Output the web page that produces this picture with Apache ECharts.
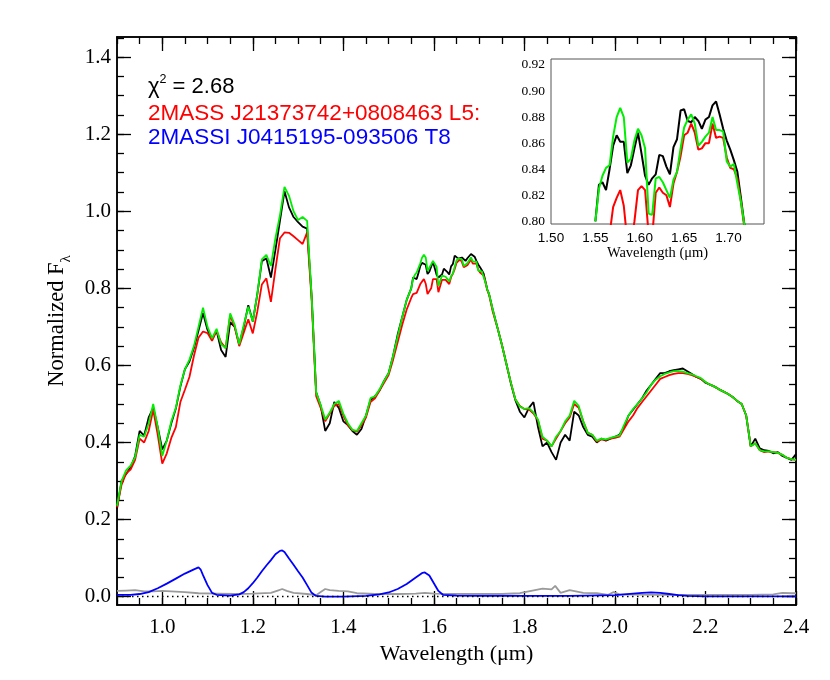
<!DOCTYPE html>
<html>
<head>
<meta charset="utf-8">
<script src="https://cdn.jsdelivr.net/npm/echarts@6/dist/echarts.min.js"></script>
<style>html,body{margin:0;padding:0;background:#fff;}#c{width:830px;height:680px;}</style>
</head>
<body>
<div id="c"></div>
<script>
// ---- data ----
const wave = [0.90,0.91,0.92,0.93,0.94,0.95,0.96,0.97,0.98,0.99,
1.00,1.01,1.02,1.03,1.04,1.05,1.06,1.07,1.08,1.09,
1.10,1.11,1.12,1.13,1.14,1.15,1.16,1.17,1.18,1.19,
1.20,1.21,1.22,1.23,1.24,1.25,1.26,1.27,1.28,1.29,
1.30,1.31,1.32,1.33,1.34,1.35,1.36,1.37,1.38,1.39,
1.40,1.41,1.42,1.43,1.44,1.45,1.46,1.47,1.48,1.49,
1.50,1.51,1.52,1.53,1.54,1.55,1.56,1.57,1.58,1.59,
1.60,1.61,1.62,1.63,1.64,1.65,1.66,1.67,1.68,1.69,
1.70,1.71,1.72,1.73,1.74,1.75,1.76,1.77,1.78,1.79,
1.80,1.81,1.82,1.83,1.84,1.85,1.86,1.87,1.88,1.89,
1.90,1.91,1.92,1.93,1.94,1.95,1.96,1.97,1.98,1.99,
2.00,2.01,2.02,2.03,2.04,2.05,2.06,2.07,2.08,2.09,
2.10,2.11,2.12,2.13,2.14,2.15,2.16,2.17,2.18,2.19,
2.20,2.21,2.22,2.23,2.24,2.25,2.26,2.27,2.28,2.29,
2.30,2.31,2.32,2.33,2.34,2.35,2.36,2.37,2.38,2.39,2.40];

const observed = [0.228,0.300,0.318,0.335,0.365,0.430,0.418,0.465,0.490,0.440,
0.382,0.405,0.450,0.488,0.545,0.590,0.610,0.645,0.690,0.736,
0.692,0.668,0.690,0.640,0.622,0.712,0.700,0.655,0.700,0.756,
0.714,0.785,0.870,0.878,0.828,0.900,0.975,1.052,1.010,0.985,
0.972,0.960,0.955,0.780,0.530,0.495,0.430,0.450,0.505,0.490,
0.455,0.445,0.430,0.420,0.435,0.470,0.510,0.520,0.535,0.560,
0.580,0.625,0.680,0.725,0.770,0.800,0.830,0.862,0.861,0.843,
0.860,0.830,0.842,0.842,0.860,0.885,0.879,0.872,0.878,0.885,
0.858,0.840,0.790,0.745,0.700,0.655,0.605,0.554,0.510,0.480,
0.465,0.490,0.505,0.440,0.390,0.400,0.375,0.355,0.400,0.420,
0.405,0.480,0.470,0.440,0.420,0.415,0.400,0.410,0.405,0.410,
0.415,0.420,0.440,0.470,0.485,0.500,0.515,0.535,0.550,0.565,
0.580,0.580,0.585,0.588,0.590,0.592,0.585,0.578,0.570,0.565,
0.555,0.550,0.545,0.538,0.532,0.526,0.518,0.508,0.500,0.470,
0.390,0.410,0.385,0.380,0.378,0.372,0.375,0.365,0.360,0.355,0.370];

const templateL5 = [0.232,0.290,0.320,0.330,0.355,0.410,0.400,0.430,0.485,0.420,
0.345,0.372,0.412,0.440,0.505,0.537,0.570,0.625,0.672,0.688,
0.684,0.664,0.690,0.660,0.645,0.730,0.700,0.650,0.685,0.720,
0.683,0.740,0.810,0.826,0.765,0.850,0.930,0.945,0.944,0.935,
0.925,0.915,0.945,0.770,0.520,0.490,0.455,0.475,0.495,0.500,
0.470,0.445,0.432,0.428,0.445,0.465,0.505,0.515,0.535,0.555,
0.575,0.615,0.660,0.705,0.745,0.775,0.795,0.811,0.818,0.790,
0.826,0.790,0.824,0.817,0.834,0.862,0.874,0.855,0.862,0.865,
0.845,0.835,0.785,0.740,0.700,0.655,0.605,0.556,0.512,0.495,
0.487,0.486,0.475,0.458,0.410,0.405,0.390,0.410,0.430,0.450,
0.465,0.500,0.490,0.455,0.425,0.420,0.402,0.408,0.407,0.410,
0.412,0.415,0.435,0.455,0.470,0.490,0.505,0.520,0.535,0.550,
0.565,0.570,0.575,0.578,0.580,0.580,0.578,0.575,0.570,0.565,
0.557,0.550,0.545,0.538,0.532,0.526,0.518,0.508,0.500,0.470,
0.390,0.398,0.380,0.375,0.377,0.375,0.373,0.368,0.360,0.357,0.355];

const composite = [0.236,0.300,0.328,0.340,0.362,0.420,0.415,0.450,0.500,0.440,
0.365,0.405,0.455,0.490,0.548,0.590,0.615,0.650,0.700,0.750,
0.700,0.670,0.695,0.655,0.645,0.735,0.705,0.655,0.705,0.752,
0.714,0.785,0.875,0.887,0.858,0.930,0.990,1.063,1.040,1.000,
0.977,0.985,0.975,0.780,0.530,0.497,0.460,0.478,0.500,0.508,
0.475,0.450,0.433,0.430,0.450,0.470,0.515,0.520,0.538,0.560,
0.580,0.625,0.675,0.725,0.770,0.800,0.837,0.868,0.882,0.848,
0.865,0.806,0.834,0.822,0.835,0.870,0.880,0.860,0.870,0.870,
0.845,0.835,0.790,0.745,0.700,0.655,0.605,0.556,0.512,0.493,
0.487,0.489,0.478,0.460,0.415,0.405,0.390,0.415,0.430,0.455,
0.470,0.508,0.495,0.455,0.425,0.420,0.405,0.410,0.408,0.412,
0.415,0.418,0.445,0.470,0.487,0.500,0.515,0.530,0.550,0.563,
0.572,0.578,0.582,0.585,0.585,0.584,0.580,0.577,0.572,0.567,
0.557,0.550,0.545,0.538,0.532,0.526,0.518,0.508,0.500,0.470,
0.390,0.398,0.380,0.377,0.377,0.375,0.373,0.368,0.360,0.357,0.355];

// finer sampling of the H-band peak (also shown in the inset)
const insetWave = [1.550,1.554,1.558,1.562,1.566,1.570,1.574,1.578,1.582,1.586,
1.590,1.594,1.598,1.602,1.606,1.610,1.614,1.618,1.622,1.626,
1.630,1.634,1.638,1.642,1.646,1.650,1.654,1.658,1.662,1.666,
1.670,1.674,1.678,1.682,1.686,1.690,1.694,1.698,1.702,1.706,
1.710,1.714,1.718,1.722];
const insetObserved = [0.800,0.828,0.830,0.824,0.840,0.858,0.866,0.861,0.861,0.837,
0.843,0.856,0.868,0.852,0.835,0.828,0.833,0.836,0.851,0.850,
0.842,0.836,0.857,0.863,0.885,0.886,0.877,0.876,0.880,0.877,
0.871,0.878,0.880,0.889,0.892,0.882,0.871,0.862,0.855,0.847,
0.838,0.818,0.797,0.785];
const insetL5 = [0.775,0.785,0.790,0.788,0.790,0.811,0.818,0.824,0.812,0.785,
0.782,0.800,0.824,0.827,0.824,0.790,0.788,0.822,0.826,0.822,
0.820,0.811,0.829,0.838,0.850,0.866,0.868,0.875,0.868,0.855,
0.856,0.860,0.860,0.875,0.864,0.865,0.864,0.849,0.841,0.840,
0.833,0.815,0.795,0.783];
const insetComposite = [0.800,0.825,0.835,0.841,0.843,0.865,0.880,0.887,0.880,0.845,
0.848,0.862,0.871,0.866,0.856,0.806,0.805,0.833,0.834,0.830,
0.824,0.818,0.832,0.838,0.856,0.872,0.878,0.882,0.875,0.858,
0.861,0.865,0.868,0.880,0.870,0.870,0.869,0.846,0.842,0.844,
0.829,0.815,0.797,0.785];

// scaled T8 component
const t8Wave = [0.90,0.93,0.95,0.97,0.99,1.01,1.03,1.05,1.07,1.08,1.085,1.09,1.10,1.11,1.12,1.15,1.17,1.18,1.19,
1.20,1.21,1.22,1.23,1.24,1.25,1.26,1.265,1.27,1.28,1.29,1.30,1.31,1.32,1.33,1.34,1.36,1.40,1.45,1.48,
1.50,1.52,1.54,1.56,1.575,1.58,1.59,1.60,1.61,1.62,1.65,1.70,1.80,1.90,2.00,2.02,2.04,2.06,2.08,
2.10,2.12,2.14,2.16,2.20,2.40];
const t8Flux = [0.005,0.005,0.007,0.012,0.022,0.034,0.047,0.060,0.071,0.076,0.070,0.056,0.030,0.010,0.005,0.003,0.006,0.012,0.022,
0.035,0.050,0.066,0.081,0.095,0.110,0.119,0.120,0.116,0.099,0.083,0.066,0.050,0.030,0.010,0.002,0.000,0.000,0.002,0.006,
0.011,0.020,0.033,0.050,0.062,0.063,0.055,0.035,0.015,0.005,0.003,0.002,0.002,0.002,0.004,0.006,0.008,0.010,0.011,
0.010,0.007,0.004,0.002,0.001,0.001];

// noise spectrum
const noiseWave = [0.90,0.92,0.94,0.96,0.98,1.00,1.02,1.05,1.08,1.12,1.16,1.20,1.24,1.255,1.265,1.275,1.29,1.32,1.34,
1.35,1.36,1.37,1.39,1.41,1.43,1.47,1.52,1.56,1.58,1.60,1.65,1.75,1.79,1.815,1.84,1.86,1.868,1.88,
1.90,1.93,1.96,1.985,1.997,2.01,2.10,2.20,2.30,2.35,2.37,2.39,2.40];
const noiseFlux = [0.015,0.016,0.017,0.014,0.014,0.015,0.014,0.012,0.009,0.008,0.007,0.008,0.010,0.016,0.020,0.015,0.010,0.007,0.004,
0.012,0.020,0.017,0.015,0.014,0.009,0.007,0.007,0.008,0.010,0.008,0.007,0.007,0.009,0.015,0.021,0.019,0.028,0.010,
0.017,0.010,0.009,0.005,0.012,0.006,0.005,0.005,0.005,0.006,0.010,0.009,0.009];

// tick values
const xMajorTicks = [1.0,1.2,1.4,1.6,1.8,2.0,2.2,2.4];
const xMinorTicks = [0.90,0.95,1.00,1.05,1.10,1.15,1.20,1.25,1.30,1.35,1.40,1.45,1.50,1.55,1.60,1.65,1.70,1.75,1.80,1.85,1.90,1.95,2.00,2.05,2.10,2.15,2.20,2.25,2.30,2.35,2.40];
const yMajorTicks = [0.0,0.2,0.4,0.6,0.8,1.0,1.2,1.4];
const yMinorTicks = [0.00,0.05,0.10,0.15,0.20,0.25,0.30,0.35,0.40,0.45,0.50,0.55,0.60,0.65,0.70,0.75,0.80,0.85,0.90,0.95,1.00,1.05,1.10,1.15,1.20,1.25,1.30,1.35,1.40,1.45];
const insetXTicks = [1.50,1.55,1.60,1.65,1.70];
const insetYTicks = [0.80,0.82,0.84,0.86,0.88,0.90,0.92];

// ---- chart ----
function pairs(xs, ys){ return xs.map((x,i)=>[x, ys[i]]); }
function mergeFine(vals, fine){
  const out = [];
  wave.forEach((w,i)=>{ if (w < 1.545 || w > 1.725) out.push([w, vals[i]]); });
  insetWave.forEach((w,i)=> out.push([w, fine[i]]));
  out.sort((a,b)=>a[0]-b[0]);
  return out;
}

const serif = '"Liberation Serif", "Times New Roman", serif';
const sans = '"Liberation Sans", Arial, Helvetica, sans-serif';
const XMIN = 0.9, XMAX = 2.4, YMIN = -0.0215, YMAX = 1.452;
const axisLineStyle = {color:'#000', width:1.5};

function xAx(pos, ticks, len, labels, extra){
  return Object.assign({
    type:'value', gridIndex:0, position:pos, min:XMIN, max:XMAX,
    axisLine:{show:true, onZero:false, lineStyle:axisLineStyle},
    axisTick:{show:true, inside:true, length:len, customValues:ticks, lineStyle:{color:'#000', width:1.3}},
    axisLabel:labels ? {show:true, customValues:ticks, margin:12, fontFamily:serif, fontSize:21, color:'#000',
      formatter:v=>v.toFixed(1)} : {show:false},
    splitLine:{show:false}
  }, extra||{});
}
function yAx(pos, ticks, len, labels, extra){
  return Object.assign({
    type:'value', gridIndex:0, position:pos, min:YMIN, max:YMAX,
    axisLine:{show:true, onZero:false, lineStyle:axisLineStyle},
    axisTick:{show:true, inside:true, length:len, customValues:ticks, lineStyle:{color:'#000', width:1.3}},
    axisLabel:labels ? {show:true, customValues:ticks, margin:6, fontFamily:serif, fontSize:21, color:'#000',
      formatter:v=>v.toFixed(1)} : {show:false},
    splitLine:{show:false}
  }, extra||{});
}

const chart = echarts.init(document.getElementById('c'), null, {renderer:'canvas'});
const lw = 1.8;
chart.setOption({
  animation:false,
  backgroundColor:'#fff',
  grid:[
    {left:117, top:37, width:679, height:568, show:false},
    {left:551, top:59, width:213, height:165, show:true, borderColor:'#555', borderWidth:1, backgroundColor:'#fff', z:5}
  ],
  xAxis:[
    xAx('bottom', xMajorTicks, 14, true, {name:'Wavelength (\u03bcm)', nameLocation:'middle', nameGap:34,
      nameTextStyle:{fontFamily:serif, fontSize:22, color:'#000'}}),
    xAx('bottom', xMinorTicks, 7, false),
    xAx('top', xMajorTicks, 14, false),
    xAx('top', xMinorTicks, 7, false),
    {type:'value', gridIndex:1, min:1.5, max:1.74, position:'bottom',
     axisLine:{show:false}, axisTick:{show:false},
     axisLabel:{show:true, customValues:insetXTicks, margin:7, fontFamily:sans, fontSize:13.5, color:'#000', formatter:v=>v.toFixed(2)},
     splitLine:{show:false},
     name:'Wavelength (\u03bcm)', nameLocation:'middle', nameGap:22,
     nameTextStyle:{fontFamily:serif, fontSize:14.5, color:'#000'}, z:6}
  ],
  yAxis:[
    yAx('left', yMajorTicks, 14, true, {name:'{a|Normalized F}{s|\u03bb}', nameLocation:'middle', nameGap:41,
      nameTextStyle:{fontFamily:serif, color:'#000', rich:{
        a:{fontFamily:serif, fontSize:22.5, color:'#000', verticalAlign:'bottom', padding:[0,0,5,0]},
        s:{fontFamily:serif, fontSize:15, color:'#000', verticalAlign:'bottom'}}}}),
    yAx('left', yMinorTicks, 7, false),
    yAx('right', yMajorTicks, 14, false),
    yAx('right', yMinorTicks, 7, false),
    {type:'value', gridIndex:1, min:0.798, max:0.9245, position:'left',
     axisLine:{show:false}, axisTick:{show:false},
     axisLabel:{show:true, customValues:insetYTicks, margin:6, fontFamily:serif, fontSize:13.5, color:'#000', formatter:v=>v.toFixed(2)},
     splitLine:{show:false}, z:6}
  ],
  series:[
    {type:'line', name:'noise', xAxisIndex:0, yAxisIndex:0, data:pairs(noiseWave, noiseFlux), showSymbol:false,
     lineStyle:{color:'#9a9a9a', width:lw}, z:2},
    {type:'line', name:'T8', xAxisIndex:0, yAxisIndex:0, data:pairs(t8Wave, t8Flux), showSymbol:false,
     lineStyle:{color:'#0000ff', width:lw}, z:3,
     markLine:{silent:true, symbol:'none', label:{show:false}, lineStyle:{color:'#000', type:[1.5,3.5], width:1.3},
       data:[{yAxis:0}]}},
    {type:'line', name:'data', xAxisIndex:0, yAxisIndex:0, data:mergeFine(observed, insetObserved), showSymbol:false,
     lineStyle:{color:'#000000', width:lw}, z:3},
    {type:'line', name:'L5', xAxisIndex:0, yAxisIndex:0, data:mergeFine(templateL5, insetL5), showSymbol:false,
     lineStyle:{color:'#ff0000', width:lw}, z:3},
    {type:'line', name:'composite', xAxisIndex:0, yAxisIndex:0, data:mergeFine(composite, insetComposite), showSymbol:false,
     lineStyle:{color:'#00ee00', width:lw}, z:3},
    {type:'line', xAxisIndex:4, yAxisIndex:4, data:pairs(insetWave, insetObserved), showSymbol:false, clip:true,
     lineStyle:{color:'#000000', width:2}, z:7},
    {type:'line', xAxisIndex:4, yAxisIndex:4, data:pairs(insetWave, insetL5), showSymbol:false, clip:true,
     lineStyle:{color:'#ff0000', width:2}, z:7},
    {type:'line', xAxisIndex:4, yAxisIndex:4, data:pairs(insetWave, insetComposite), showSymbol:false, clip:true,
     lineStyle:{color:'#00ee00', width:2}, z:7}
  ],
  graphic:[
    {type:'text', left:148, top:73, z:10, style:{
      text:'{a|\u03c7}{b|2}{a| = 2.68}', rich:{
        a:{fontFamily:sans, fontSize:22, fill:'#000', verticalAlign:'bottom'},
        b:{fontFamily:sans, fontSize:12.5, fill:'#000', verticalAlign:'bottom', padding:[0,0,12,0]}}}},
    {type:'text', left:148, top:102, z:10, style:{text:'2MASS J21373742+0808463 L5:', fontFamily:sans, fontSize:22.5, fill:'#ff0000'}},
    {type:'text', left:148, top:126, z:10, style:{text:'2MASSI J0415195-093506 T8', fontFamily:sans, fontSize:22.5, fill:'#0000ff'}}
  ]
});
</script>
</body>
</html>
